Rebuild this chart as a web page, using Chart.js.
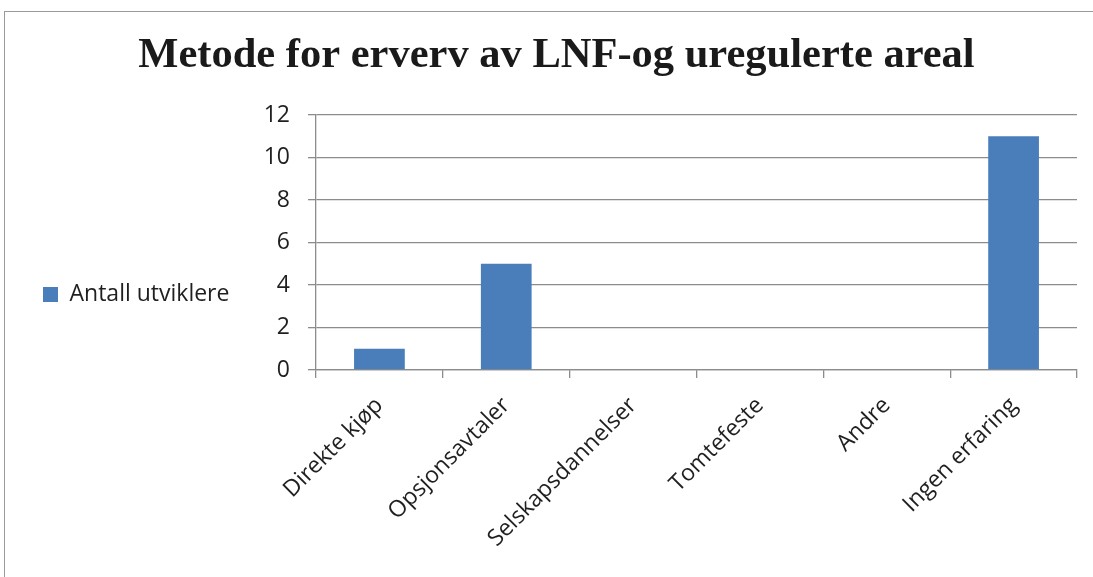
<!DOCTYPE html>
<html lang="no">
<head>
<meta charset="utf-8">
<title>Metode for erverv av LNF-og uregulerte areal</title>
<script src="https://cdn.jsdelivr.net/npm/chart.js@4.4.1/dist/chart.umd.min.js"></script>
<style>
  html, body { margin: 0; padding: 0; background: #fff; overflow: hidden; }
  #wrap { position: relative; width: 1093px; height: 577px; }
  #frame {
    position: absolute; left: 4px; top: 11px; width: 1200px; height: 700px;
    border: 1.5px solid #9a9a9a; box-sizing: border-box;
  }
  #chart { position: absolute; left: 0; top: 0; }
</style>
</head>
<body>
<div id="wrap">
  <div id="frame"></div>
  <canvas id="chart" width="1093" height="577"></canvas>
</div>
<script>
// Categories and values
const categories = ['Direkte kjøp', 'Opsjonsavtaler', 'Selskapsdannelser', 'Tomtefeste', 'Andre', 'Ingen erfaring'];
const antallUtviklere = [1, 5, 0, 0, 0, 11];
const seriesName = 'Antall utviklere';
const chartTitle = 'Metode for erverv av LNF-og uregulerte areal';
const yTicks = [0, 2, 4, 6, 8, 10, 12];

const textFont = { family: "'Open Sans', 'Noto Sans', sans-serif", size: 23 };
const gridColor = '#8c8c8c';
const textColor = '#1f1f1f';
const plotLeft = 316;

new Chart(document.getElementById('chart'), {
  type: 'bar',
  data: {
    labels: categories,
    datasets: [{
      label: seriesName,
      data: antallUtviklere,
      backgroundColor: '#4a7ebb',
      borderWidth: 0,
      categoryPercentage: 1.0,
      barPercentage: 0.4
    }]
  },
  options: {
    responsive: false,
    animation: false,
    devicePixelRatio: 1,
    layout: { padding: { left: 36, right: 16, top: 12, bottom: 0 } },
    plugins: {
      title: {
        display: true,
        text: chartTitle,
        color: '#1a1a1a',
        font: { family: "'Liberation Serif', 'Times New Roman', serif", size: 42.5, weight: 'bold' },
        padding: { top: 19, bottom: 33 }
      },
      legend: {
        position: 'left',
        align: 'center',
        labels: {
          color: textColor,
          font: textFont,
          boxWidth: 15,
          boxHeight: 15,
          padding: 7
        }
      },
      tooltip: { enabled: false }
    },
    scales: {
      x: {
        grid: {
          display: true,
          drawOnChartArea: false,
          drawTicks: true,
          tickLength: 8,
          color: gridColor,
          lineWidth: 1.3,
          offset: true
        },
        border: { color: gridColor, width: 1.3 },
        ticks: {
          color: textColor,
          font: textFont,
          minRotation: 45,
          maxRotation: 45,
          autoSkip: false,
          padding: 14
        },
        afterFit(scale) { scale.height = 207; }
      },
      y: {
        min: 0,
        max: 12,
        grid: { color: gridColor, lineWidth: 1.3, tickLength: 8 },
        border: { color: gridColor, width: 1.3 },
        afterBuildTicks(scale) { scale.ticks = yTicks.map(v => ({ value: v })); },
        ticks: {
          color: textColor,
          font: textFont,
          padding: 18
        },
        afterFit(scale) {
          const lg = scale.chart.legend;
          const used = 36 + (lg ? lg.width : 0);
          scale.width = Math.max(plotLeft - used, 10);
        }
      }
    }
  }
});
</script>
</body>
</html>
